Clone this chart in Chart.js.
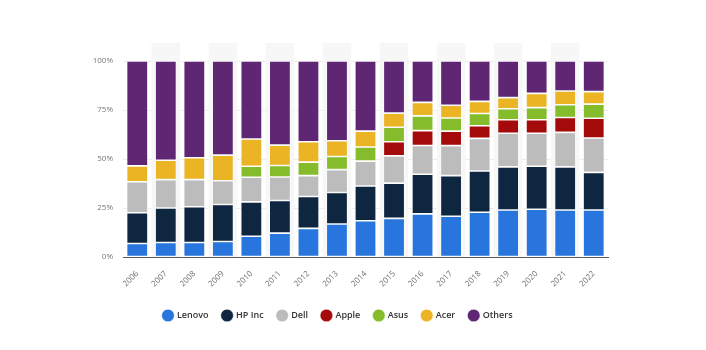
<!DOCTYPE html>
<html>
<head>
<meta charset="utf-8">
<script src="https://cdn.jsdelivr.net/npm/chart.js@4.4.1/dist/chart.umd.min.js"></script>
<style>
  html, body { margin: 0; padding: 0; background: #fff; }
  #wrap { width: 706px; height: 350px; }
</style>
</head>
<body>
<div id="wrap"><canvas id="shares"></canvas></div>
<script>
// years on the x axis
var years = ["2006","2007","2008","2009","2010","2011","2012","2013","2014","2015","2016","2017","2018","2019","2020","2021","2022"];

// market share per vendor, %
var lenovo = [6.9, 7.4, 7.4, 7.9, 10.6, 12.2, 14.6, 16.8, 18.5, 19.7, 22.0, 20.8, 22.8, 24.0, 24.4, 24.0, 24.0];
var hpInc  = [15.7, 17.6, 18.2, 18.9, 17.5, 16.6, 16.3, 16.1, 17.7, 18.0, 20.2, 20.7, 21.1, 22.0, 21.9, 22.0, 19.2];
var dell   = [15.8, 14.5, 13.9, 12.1, 12.6, 12.0, 10.6, 11.7, 12.7, 13.9, 14.7, 15.3, 16.6, 17.1, 16.8, 17.6, 17.5];
var apple  = [0, 0, 0, 0, 0, 0, 0, 0, 0, 7.2, 7.6, 7.4, 6.5, 6.9, 6.9, 7.6, 10.1];
var asus   = [0, 0, 0, 0, 5.6, 5.9, 6.9, 6.7, 7.2, 7.4, 7.5, 6.7, 6.2, 5.6, 6.2, 6.5, 7.2];
var acer   = [8.1, 9.9, 11.1, 13.1, 13.9, 10.4, 10.4, 8.0, 8.1, 7.2, 6.9, 6.5, 6.2, 5.7, 7.3, 7.0, 6.4];
var others = [53.5, 50.6, 49.4, 48.0, 39.8, 42.9, 41.2, 40.7, 35.8, 26.6, 21.1, 22.6, 20.6, 18.7, 16.5, 15.3, 15.6];

var yTicks = [0, 25, 50, 75, 100];

// faint shading behind every other year
var bandPlugin = {
    id: "bands",
    beforeDatasetsDraw: function(chart) {
        var ctx = chart.ctx, x = chart.scales.x, area = chart.chartArea;
        var w = (area.right - area.left) / years.length;
        ctx.save();
        ctx.fillStyle = "#f7f7f7";
        for (var i = 1; i < years.length; i += 2) {
            var cx = x.getPixelForValue(i);
            ctx.fillRect(cx - w / 2, area.top - 18, w, area.bottom - area.top + 18);
        }
        ctx.restore();
    }
};

function ds(label, data, color) {
    return {
        label: label,
        data: data,
        backgroundColor: color,
        borderColor: "rgba(255,255,255,0.7)",
        borderWidth: 0.8,
        borderSkipped: false,
        categoryPercentage: 0.75,
        barPercentage: 1
    };
}

new Chart("shares", {
    type: "bar",
    data: {
        labels: years,
        datasets: [
            ds("Lenovo", lenovo, "#2876dd"),
            ds("HP Inc", hpInc, "#0f2640"),
            ds("Dell", dell, "#bcbcbc"),
            ds("Apple", apple, "#a50a0a"),
            ds("Asus", asus, "#84bc2c"),
            ds("Acer", acer, "#ebb425"),
            ds("Others", others, "#5e2673")
        ]
    },
    plugins: [bandPlugin],
    options: {
        responsive: true,
        maintainAspectRatio: false,
        animation: false,
        layout: { padding: { top: 61, right: 98, bottom: 20, left: 68 } },
        plugins: {
            tooltip: { enabled: false },
            legend: {
                position: "bottom",
                labels: {
                    usePointStyle: true,
                    pointStyle: "circle",
                    boxWidth: 9,
                    boxHeight: 9,
                    padding: 14,
                    color: "#333",
                    font: { family: "Open Sans", size: 9, weight: "600" }
                }
            }
        },
        scales: {
            x: {
                stacked: true,
                grid: { display: false },
                border: { display: true, color: "#5a5a5a", width: 1 },
                ticks: {
                    minRotation: 45,
                    maxRotation: 45,
                    padding: 4,
                    color: "#707070",
                    font: { family: "Open Sans", size: 8 }
                },
                afterFit: function(scale) { scale.height = 40; }
            },
            y: {
                stacked: true,
                min: 0,
                max: 100,
                afterBuildTicks: function(scale) {
                    scale.ticks = yTicks.map(function(v) { return { value: v }; });
                },
                grid: { color: "#ececec", drawTicks: false },
                border: { display: false },
                ticks: {
                    padding: 10,
                    color: "#777",
                    font: { family: "Open Sans", size: 8 },
                    callback: function(v) { return v + "%"; }
                },
                afterFit: function(scale) { scale.width = 55; }
            }
        }
    }
});
</script>
</body>
</html>
